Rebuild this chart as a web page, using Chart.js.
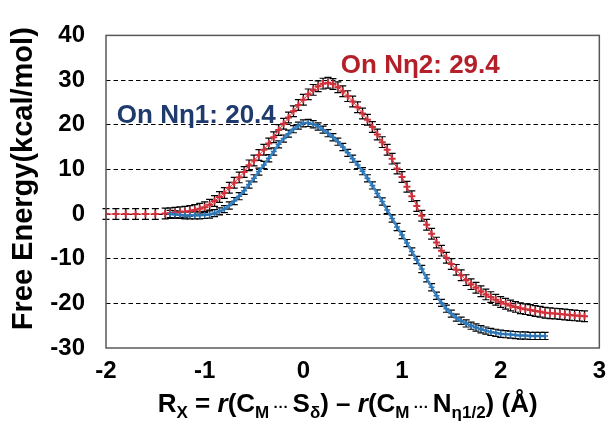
<!DOCTYPE html>
<html><head><meta charset="utf-8">
<script src="https://cdn.jsdelivr.net/npm/chart.js@4"></script>
<style>html,body{margin:0;padding:0;background:#fff}</style>
</head><body>
<canvas id="c" width="615" height="429"></canvas>
<script>
// ---- data ----
const redX = [-2.0,-1.9,-1.8,-1.7,-1.6,-1.5,-1.4,-1.35,-1.3,-1.25,-1.2,-1.15,-1.1,-1.05,-1.0,-0.95,-0.9,-0.85,-0.8,-0.75,-0.7,-0.65,-0.6,-0.55,-0.5,-0.45,-0.4,-0.35,-0.3,-0.25,-0.2,-0.15,-0.1,-0.05,0.0,0.05,0.1,0.15,0.2,0.25,0.3,0.35,0.4,0.45,0.5,0.55,0.6,0.65,0.7,0.75,0.8,0.85,0.9,0.95,1.0,1.05,1.1,1.15,1.2,1.25,1.3,1.35,1.4,1.45,1.5,1.55,1.6,1.65,1.7,1.75,1.8,1.85,1.9,1.95,2.0,2.05,2.1,2.15,2.2,2.25,2.3,2.35,2.4,2.45,2.5,2.55,2.6,2.65,2.7,2.75,2.8,2.85];
const redY = [0.0,0.0,0.0,0.0,0.0,0.0,0.1,0.2,0.3,0.4,0.5,0.7,0.9,1.2,1.5,2.1,2.9,3.8,4.7,5.9,7.0,8.2,9.4,10.9,12.0,13.2,14.4,15.8,17.2,18.8,20.2,21.6,23.0,24.4,25.6,26.8,27.8,28.6,29.2,29.4,29.1,28.4,27.5,26.4,25.2,23.9,22.5,21.1,19.5,17.8,16.1,14.4,12.4,10.2,8.3,6.1,4.0,1.8,-0.4,-2.4,-4.4,-6.4,-8.2,-9.8,-11.2,-12.5,-13.7,-14.8,-15.7,-16.5,-17.3,-18.0,-18.6,-19.2,-19.7,-20.1,-20.5,-20.8,-21.1,-21.3,-21.5,-21.7,-21.9,-22.1,-22.2,-22.3,-22.4,-22.5,-22.6,-22.7,-22.8,-22.9];
const blueX = [-1.35,-1.3,-1.25,-1.2,-1.15,-1.1,-1.05,-1.0,-0.95,-0.9,-0.85,-0.8,-0.75,-0.7,-0.65,-0.6,-0.55,-0.5,-0.45,-0.4,-0.35,-0.3,-0.25,-0.2,-0.15,-0.1,-0.05,0.0,0.05,0.1,0.15,0.2,0.25,0.3,0.35,0.4,0.45,0.5,0.55,0.6,0.65,0.7,0.75,0.8,0.85,0.9,0.95,1.0,1.05,1.1,1.15,1.2,1.25,1.3,1.35,1.4,1.45,1.5,1.55,1.6,1.65,1.7,1.75,1.8,1.85,1.9,1.95,2.0,2.05,2.1,2.15,2.2,2.25,2.3,2.35,2.4,2.45];
const blueY = [0.0,-0.1,-0.2,-0.3,-0.3,-0.3,-0.3,-0.2,-0.1,0.2,0.6,1.1,1.9,2.9,4.0,5.2,6.6,8.0,9.5,11.0,12.5,14.0,15.6,16.9,18.0,19.0,19.8,20.3,20.4,20.1,19.6,18.9,18.1,17.2,16.2,15.0,13.7,12.4,11.0,9.6,8.0,6.4,4.6,2.8,0.9,-1.0,-2.9,-4.7,-6.5,-8.4,-10.3,-12.3,-14.4,-16.4,-18.3,-19.9,-21.2,-22.3,-23.2,-23.9,-24.5,-25.0,-25.4,-25.8,-26.1,-26.4,-26.6,-26.8,-26.9,-27.0,-27.1,-27.2,-27.2,-27.3,-27.3,-27.3,-27.3];
const redErr = 1.2;
const blueErr = 0.8;
const xTicks = [-2, -1, 0, 1, 2, 3];
const yTicks = [-30, -20, -10, 0, 10, 20, 30, 40];
const labelRed = {text: 'On Nη2: 29.4', x: 0.38, y: 33.2};
const labelBlue = {text: 'On Nη1: 20.4', x: -1.89, y: 22.0};

const FONT = '"Liberation Sans", Arial, sans-serif';

const errorBars = {
  id: 'errorBars',
  beforeDatasetsDraw(chart) {
    const ctx = chart.ctx, xs = chart.scales.x, ys = chart.scales.y;
    ctx.save();
    ctx.strokeStyle = '#000';
    ctx.lineWidth = 1.2;
    chart.data.datasets.forEach(ds => {
      const e = ds.err;
      ds.data.forEach(p => {
        const px = xs.getPixelForValue(p.x);
        const t = ys.getPixelForValue(p.y + e), b = ys.getPixelForValue(p.y - e);
        ctx.beginPath();
        ctx.moveTo(px, t); ctx.lineTo(px, b);
        ctx.moveTo(px - 3.5, t); ctx.lineTo(px + 3.5, t);
        ctx.moveTo(px - 3.5, b); ctx.lineTo(px + 3.5, b);
        ctx.stroke();
      });
    });
    ctx.restore();
  }
};

const decor = {
  id: 'decor',
  afterDraw(chart) {
    const ctx = chart.ctx, a = chart.chartArea, xs = chart.scales.x, ys = chart.scales.y;
    ctx.save();
    // frame
    ctx.strokeStyle = '#595959';
    ctx.lineWidth = 1.5;
    ctx.strokeRect(a.left, a.top, a.right - a.left, a.bottom - a.top);
    // annotations
    ctx.font = 'bold 26px ' + FONT;
    ctx.textBaseline = 'middle';
    ctx.textAlign = 'left';
    ctx.fillStyle = '#B3202A';
    ctx.fillText(labelRed.text, xs.getPixelForValue(labelRed.x), ys.getPixelForValue(labelRed.y));
    ctx.fillStyle = '#1F3B6E';
    ctx.fillText(labelBlue.text, xs.getPixelForValue(labelBlue.x), ys.getPixelForValue(labelBlue.y));
    // y title
    ctx.fillStyle = '#000';
    ctx.save();
    ctx.translate(24, (a.top + a.bottom) / 2 - 13);
    ctx.rotate(-Math.PI / 2);
    ctx.textAlign = 'center';
    ctx.font = 'bold 29px ' + FONT;
    ctx.fillText('Free Energy(kcal/mol)', 0, 0);
    ctx.restore();
    // x title with subscripts
    const big = 'bold 26px ' + FONT, bigI = 'italic bold 26px ' + FONT, sub = 'bold 17px ' + FONT, dots = 'bold 15px ' + FONT;
    const segs = [
      ['R', big, 0], ['X', sub, 6], [' = ', big, 0], ['r', bigI, 0], ['(C', big, 0], ['M', sub, 6],
      [' ··· ', dots, 0], ['S', big, 0], ['δ', sub, 6], [') – ', big, 0], ['r', bigI, 0], ['(C', big, 0], ['M', sub, 6],
      [' ··· ', dots, 0], ['N', big, 0], ['η1/2', sub, 6], [') (Å)', big, 0]
    ];
    let w = 0;
    segs.forEach(s => { ctx.font = s[1]; w += ctx.measureText(s[0]).width; });
    let x = (a.left + a.right) / 2 - 5 - w / 2;
    const base = 412;
    ctx.textAlign = 'left';
    ctx.textBaseline = 'alphabetic';
    segs.forEach(s => { ctx.font = s[1]; ctx.fillText(s[0], x, base + s[2]); x += ctx.measureText(s[0]).width; });
    ctx.restore();
  }
};

new Chart(document.getElementById('c'), {
  type: 'line',
  data: {
    datasets: [
      {
        label: 'On Nη1', err: blueErr,
        data: blueX.map((x, i) => ({x, y: blueY[i]})),
        borderColor: '#3A87C8', borderWidth: 2.5,
        pointStyle: 'cross', pointRadius: 3, pointBorderColor: '#2D74B4', pointBorderWidth: 1.5,
        tension: 0.2
      },
      {
        label: 'On Nη2', err: redErr,
        data: redX.map((x, i) => ({x, y: redY[i]})),
        borderColor: '#D0303A', borderWidth: 1,
        pointStyle: 'cross', pointRadius: 3.5, pointBorderColor: '#D0303A', pointBorderWidth: 2,
        tension: 0.2
      }
    ]
  },
  options: {
    responsive: false, animation: false, devicePixelRatio: 1,
    layout: {padding: {left: 0, right: 11, top: 22, bottom: 0}},
    plugins: {legend: {display: false}, tooltip: {enabled: false}},
    scales: {
      x: {
        type: 'linear', min: -2, max: 3,
        afterFit(s) { s.height = 81; },
        afterBuildTicks(s) { s.ticks = xTicks.map(v => ({value: v})); },
        grid: {display: false, drawTicks: false},
        border: {display: false},
        ticks: {padding: 9, color: '#000', font: {family: FONT, size: 24, weight: 'bold'}, maxRotation: 0, autoSkip: false}
      },
      y: {
        type: 'linear', min: -30, max: 40,
        afterFit(s) { s.width = 106; },
        afterBuildTicks(s) { s.ticks = yTicks.map(v => ({value: v})); },
        grid: {drawTicks: false, color: c => (c.tick && (c.tick.value === 40 || c.tick.value === -30)) ? 'rgba(0,0,0,0)' : '#000', lineWidth: 1},
        border: {display: false, dash: [4.5, 3]},
        ticks: {padding: 21, color: '#000', font: {family: FONT, size: 24, weight: 'bold'}}
      }
    }
  },
  plugins: [errorBars, decor]
});
</script>
</body></html>
